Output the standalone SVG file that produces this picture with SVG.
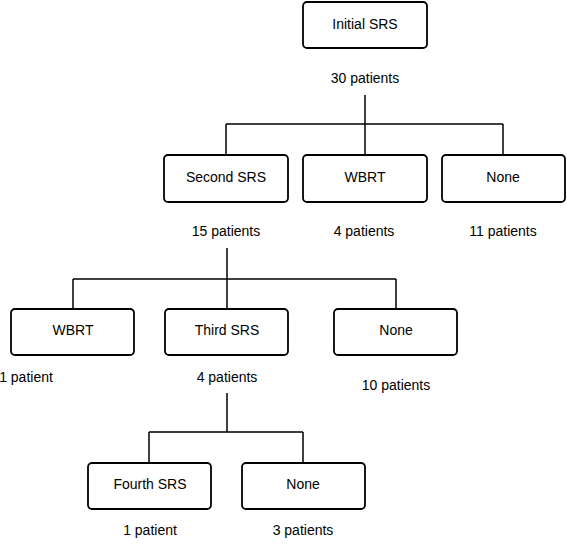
<svg xmlns="http://www.w3.org/2000/svg" width="567" height="548" viewBox="0 0 567 548">
<style>
.box{fill:#fff;stroke:#000;stroke-width:1.8}
.t{font-family:"Liberation Sans",Arial,sans-serif;font-size:14px;fill:#000;text-anchor:middle;dominant-baseline:central}
.c{stroke:#000;stroke-width:1.5;fill:none}
</style>
<rect width="567" height="548" fill="#fff"/>
<g id="connectors">
<path class="c" d="M365 95V155M226 124H503M226 124V155M503 124V155"/>
<path class="c" d="M227 248V309M73 279H396M73 279V309M396 279V309"/>
<path class="c" d="M227 393V432M149 432H303M149 432V463M303 432V463"/>
</g>
<g id="initial"><rect class="box" x="303" y="2" width="124" height="46" rx="4"/><text class="t" x="365" y="24">Initial SRS</text></g>
<text class="t" x="365" y="78">30 patients</text>
<g id="second"><rect class="box" x="164" y="155" width="124" height="47" rx="4"/><text class="t" x="226" y="177">Second SRS</text></g>
<g id="wbrt1"><rect class="box" x="303" y="155" width="124" height="47" rx="4"/><text class="t" x="365" y="177">WBRT</text></g>
<g id="none1"><rect class="box" x="442" y="155" width="123" height="47" rx="4"/><text class="t" x="503" y="177">None</text></g>
<text class="t" x="226" y="231">15 patients</text>
<text class="t" x="364" y="231">4 patients</text>
<text class="t" x="503" y="231">11 patients</text>
<g id="wbrt2"><rect class="box" x="11" y="309" width="123" height="46" rx="4"/><text class="t" x="73" y="330">WBRT</text></g>
<g id="third"><rect class="box" x="165" y="309" width="123" height="46" rx="4"/><text class="t" x="227" y="330">Third SRS</text></g>
<g id="none2"><rect class="box" x="334" y="309" width="123" height="46" rx="4"/><text class="t" x="396" y="330">None</text></g>
<text class="t" x="26" y="377">1 patient</text>
<text class="t" x="227" y="377">4 patients</text>
<text class="t" x="396" y="385">10 patients</text>
<g id="fourth"><rect class="box" x="88" y="463" width="123" height="46" rx="4"/><text class="t" x="150" y="484">Fourth SRS</text></g>
<g id="none3"><rect class="box" x="242" y="463" width="123" height="46" rx="4"/><text class="t" x="303" y="484">None</text></g>
<text class="t" x="150" y="530">1 patient</text>
<text class="t" x="303" y="530">3 patients</text>
</svg>
